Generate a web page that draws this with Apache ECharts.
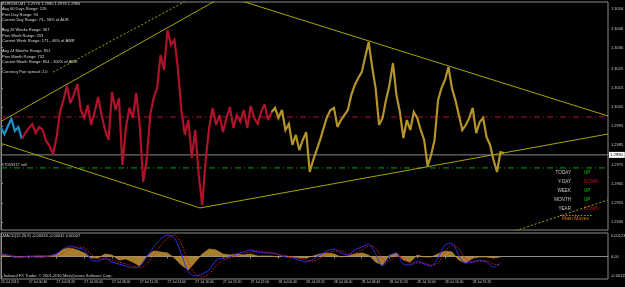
<!DOCTYPE html>
<html><head><meta charset="utf-8">
<script src="https://cdn.jsdelivr.net/npm/echarts@6/dist/echarts.min.js"></script>
<style>html,body{margin:0;padding:0;background:#000;}#c{width:625px;height:287px;}</style>
</head><body><div id="c"></div>
<script>
// ---- data ----
const timeLabels = ['26 Jul 2010','27 Jul 00:40','27 Jul 03:20','27 Jul 06:00','27 Jul 08:40','27 Jul 11:20','27 Jul 14:00','27 Jul 16:40','27 Jul 19:20','27 Jul 22:00','28 Jul 00:40','28 Jul 03:20','28 Jul 06:00','28 Jul 08:40','28 Jul 11:20','28 Jul 14:00','28 Jul 16:40','28 Jul 19:20'];
const timeTickMinutes = [0,160,320,480,640,800,960,1120,1280,1440,1600,1760,1920,2080,2240,2400,2560,2720];
const priceTickLabels = ['1.3056','1.3046','1.3036','1.3025','1.3015','1.3005','1.2995','1.2985','1.2975','1.2965','1.2955','1.2945'];
const macdTickLabels = ['0.00123','0.00','-0.00115'];
const macdTickValues = [0.00123, 0, -0.00115];

const PRICE_STEP = 20;   // minutes between price samples
const blueStart = 0, redStart = 6, goldStart = 78;
const bluePrice = [1.29940,1.29909,1.29951,1.29987,1.29925,1.29946,1.29883];
const redPrice = [1.29883,1.29914,1.29940,1.29961,1.29914,1.29946,1.29930,1.29873,1.29846,1.29805,
 1.29888,1.30024,1.30086,1.30160,1.30071,1.30113,1.30170,1.30034,1.29993,1.30060,
 1.29956,1.30024,1.30102,1.30008,1.29930,1.29878,1.30128,1.30034,1.30097,1.29747,
 1.29940,1.30045,1.29993,1.30123,1.29956,1.29659,1.29773,1.30008,1.30097,1.30149,
 1.30321,1.30243,1.30452,1.30373,1.30400,1.30253,1.30034,1.29904,1.29982,1.29784,
 1.29930,1.29695,1.29539,1.29773,1.29940,1.30045,1.29956,1.30008,1.29919,1.29993,
 1.30050,1.29940,1.30008,1.29972,1.30034,1.29940,1.30055,1.29993,1.29961,1.30024,
 1.30065,1.29982,1.30024];
const goldPrice = [1.30024,1.30045,1.29993,1.30034,1.29930,1.29961,1.29852,1.29904,1.29825,1.29878,
 1.29919,1.29711,1.29773,1.29825,1.29878,1.29940,1.29998,1.30034,1.30045,1.29946,
 1.29982,1.30008,1.30034,1.30113,1.30165,1.30201,1.30232,1.30311,1.30389,1.30259,
 1.30149,1.29956,1.29993,1.30086,1.30165,1.30279,1.30113,1.30024,1.29888,1.29982,
 1.29930,1.30024,1.29993,1.29930,1.29878,1.29742,1.29800,1.29878,1.30086,1.30149,
 1.30191,1.30259,1.30149,1.30086,1.30008,1.29930,1.29956,1.29993,1.30045,1.29914,
 1.29972,1.29993,1.29893,1.29852,1.29773,1.29711,1.29815,1.29810];

const MACD_STEP = 40;
const macdMain = [0.00021,0.00009,-0.00003,-0.00003,0.00003,-0.00003,-0.00003,0.00003,0.00015,0.00045,
 0.00063,0.00051,0.00039,-0.00021,-0.00027,-0.00009,-0.00033,-0.00045,-0.00057,-0.00068,
 -0.00057,-0.00003,0.00057,0.00104,0.00128,0.00110,0.00015,-0.00092,-0.00116,-0.00104,
 -0.00080,-0.00021,-0.00009,-0.00003,0.00015,0.00027,0.00039,0.00027,0.00021,0.00021,
 0.00009,-0.00003,-0.00009,-0.00021,-0.00033,-0.00015,0.00009,0.00033,0.00045,0.00021,
 0.00009,0.00039,0.00057,0.00074,0.00015,-0.00057,0.00003,0.00021,-0.00045,-0.00051,
 -0.00027,-0.00045,-0.00057,-0.00009,0.00068,0.00080,0.00003,-0.00039,-0.00033,-0.00021,
 -0.00033,-0.00063,-0.00039];
const macdSignal = [0.00009,0.00009,0.00003,-0.00003,-0.00003,-0.00003,-0.00003,0.00003,0.00003,0.00021,
 0.00045,0.00057,0.00051,0.00015,-0.00015,-0.00015,-0.00021,-0.00033,-0.00045,-0.00057,
 -0.00068,-0.00045,0.00009,0.00063,0.00110,0.00128,0.00074,-0.00033,-0.00104,-0.00122,
 -0.00104,-0.00057,-0.00021,-0.00009,0.00003,0.00015,0.00027,0.00033,0.00027,0.00021,
 0.00015,0.00003,-0.00003,-0.00009,-0.00021,-0.00027,-0.00009,0.00015,0.00033,0.00033,
 0.00015,0.00021,0.00039,0.00063,0.00051,-0.00015,-0.00027,0.00003,-0.00009,-0.00039,
 -0.00039,-0.00039,-0.00051,-0.00039,0.00027,0.00068,0.00045,-0.00015,-0.00033,-0.00027,
 -0.00027,-0.00045,-0.00051];
const macdHist = [0.00009,0.00003,-0.00003,-0.00003,0,0.00003,0.00003,0.00003,0.00015,0.00045,
 0.00051,0.00039,0.00021,-0.00009,-0.00009,0.00015,0.00009,-0.00021,-0.00015,-0.00033,
 -0.00057,0.00003,0.00033,0.00027,0.00021,-0.00009,-0.00051,-0.00080,-0.00033,0.00015,
 0.00045,0.00039,0.00015,0.00009,0.00015,0.00009,0.00015,0.00003,0.00003,0.00003,
 -0.00003,0.00003,-0.00003,-0.00009,-0.00009,0.00003,0.00015,0.00021,0.00015,-0.00003,
 0.00003,0.00015,0.00021,0.00009,-0.00033,-0.00051,0.00009,0.00021,-0.00021,-0.00033,
 0.00009,-0.00003,-0.00003,0.00015,0.00033,0.00027,-0.00021,-0.00039,-0.00009,-0.00003,
 -0.00003,-0.00009,-0.00003];

// trend lines: [[minute, price],[minute, price]]
const trendSolid = [
  [[0,1.29975],[1234,1.30603]],
  [[1395,1.30601],[3500,1.30003]],
  [[0,1.29860],[1147,1.29523]],
  [[1147,1.29523],[3500,1.29909]]
];
const trendDotted = [
  [[300,1.30232],[1067,1.30603]],
  [[2946,1.29398],[3500,1.29565]]
];
const levelRed = 1.29998, levelGreen = 1.29732, levelBid = 1.2980;
const bidLabel = '1.2980';
const chartEndMinute = 3500;

const infoLines = ['EURUSD,M1  1.2976 1.2980 1.2976 1.2980','Avg 60 Days Range: 126','Prev Day Range: 94','Current Day Range: 73 - 58% of ADR','',
 'Avg 26 Weeks Range: 367','Prev Week Range: 203','Current Week Range: 171 - 46% of AWR','',
 'Avg 24 Months Range: 851','Prev Month Range: 732','Current Month Range: 854 - 100% of AMR','','Currency Pair spread: 2.0'];
const trendNames = ['TODAY','Y-DAY','WEEK','MONTH','YEAR'];
const trendStates = ['UP','DOWN','UP','UP','DOWN'];

// ---- build ----
const toPts = (arr, start, step) => arr.map((v, i) => [(start + i) * step, v]);
const FONT = '"Liberation Sans", Arial, sans-serif';
const axisGray = '#8c8c8c';
const series = [];
function priceLine(arr, start, color) {
  series.push({type:'line', xAxisIndex:0, yAxisIndex:0, data: toPts(arr, start, PRICE_STEP), showSymbol:false,
    lineStyle:{color, width:2.2, join:'miter', miterLimit:3}, itemStyle:{color}, z:3, silent:true, animation:false});
}
function level(p, color, type, label) {
  const s = {type:'line', xAxisIndex:0, yAxisIndex:0, data:[[0,p],[chartEndMinute,p]], showSymbol:false,
    lineStyle:{color, width:1, type}, z:2, silent:true, animation:false};
  if (label) s.endLabel = {show:true, formatter:label, backgroundColor:'#ffffff', color:'#000', fontSize:4.2, fontFamily:FONT, padding:[1,2,1,1], distance:1};
  series.push(s);
}
level(levelRed, '#b01030', [6,3,1,3]);
level(levelGreen, '#00a000', [6,3,1,3]);
level(levelBid, '#8a8a8a', 'solid', bidLabel);
priceLine(bluePrice, blueStart, '#1e8ec6');
priceLine(redPrice, redStart, '#b0122c');
priceLine(goldPrice, goldStart, '#b4942a');
trendSolid.forEach(d => series.push({type:'line', xAxisIndex:0, yAxisIndex:0, data:d, showSymbol:false, clip:true,
  lineStyle:{color:'#a6a600', width:1}, z:4, silent:true, animation:false}));
trendDotted.forEach(d => series.push({type:'line', xAxisIndex:0, yAxisIndex:0, data:d, showSymbol:false, clip:true,
  lineStyle:{color:'#a6a600', width:1, type:[2,2]}, z:4, silent:true, animation:false}));
// MACD
series.push({type:'line', xAxisIndex:1, yAxisIndex:1, data:toPts(macdHist,0,MACD_STEP), showSymbol:false,
  lineStyle:{color:'#c49433', width:0.6}, areaStyle:{color:'#c49433', opacity:0.85, origin:0}, z:2, silent:true, animation:false});
series.push({type:'line', xAxisIndex:1, yAxisIndex:1, data:toPts(macdMain,0,MACD_STEP), showSymbol:false, smooth:0.3,
  lineStyle:{color:'#2c2cf0', width:1}, z:4, silent:true, animation:false});
series.push({type:'line', xAxisIndex:1, yAxisIndex:1, data:toPts(macdSignal,0,MACD_STEP), showSymbol:false, smooth:0.3,
  lineStyle:{color:'#e01818', width:1, type:[1.5,1.5]}, z:5, silent:true, animation:false});

const graphic = [
  {type:'text', left:2, top:1.5, silent:true, style:{text:infoLines.join('\n'), fill:'#d8d8d8', font:'4px '+FONT, lineHeight:5.25}},
  {type:'text', left:2, top:163, silent:true, style:{text:'#7059317 sell', fill:'#d0d0d0', font:'4px '+FONT}},
  {type:'text', left:3, top:234, silent:true, style:{text:'MACD(12,26,9) -0.00034 -0.00042 0.00007', fill:'#d0d0d0', font:'4px '+FONT}},
  {type:'text', left:3, top:274, silent:true, style:{text:'Tadawul FX Trader, \u00a9 2001-2010 MetaQuotes Software Corp.', fill:'#d0d0d0', font:'4px '+FONT}},
  {type:'text', left:562, top:216.5, silent:true, style:{text:'Main Moves', fill:'#d07c10', font:'5px '+FONT}},
  {type:'line', silent:true, shape:{x1:560, y1:215.5, x2:593, y2:215.5}, style:{stroke:'#d07c10', lineWidth:1, lineDash:[1.5,1.5]}}
];
trendNames.forEach((n, i) => {
  const y = 170.5 + i * 8.9;
  graphic.push({type:'text', right:625-571, top:y, silent:true, style:{text:n, fill:'#c8c8c8', font:'4.6px '+FONT, align:'right'}});
  graphic.push({type:'text', left:584, top:y, silent:true, style:{text:trendStates[i], fill: trendStates[i]==='UP' ? '#14c814' : '#c8102a', font:'4.6px '+FONT, align:'center'}});
});

const chart = echarts.init(document.getElementById('c'), null, {renderer:'canvas'});
chart.setOption({
  backgroundColor:'#000000',
  animation:false,
  graphic,
  grid:[
    {left:1, top:2, width:607, height:228, show:true, borderColor:axisGray, borderWidth:1, outerBoundsMode:'none', containLabel:false},
    {left:1, top:233, width:607, height:46, show:true, borderColor:axisGray, borderWidth:1, outerBoundsMode:'none', containLabel:false}
  ],
  xAxis:[
    {type:'value', gridIndex:0, min:0, max:chartEndMinute, axisLine:{show:false}, axisTick:{show:false}, axisLabel:{show:false}, splitLine:{show:false}},
    {type:'value', gridIndex:1, min:0, max:chartEndMinute, axisLine:{show:true, lineStyle:{color:axisGray}}, splitLine:{show:false},
     axisTick:{show:true, customValues:timeTickMinutes, length:2, lineStyle:{color:axisGray}},
     axisLabel:{show:true, customValues:timeTickMinutes, align:'left', margin:2, color:'#c8c8c8', fontSize:3.4, fontFamily:FONT,
       formatter:(v)=>timeLabels[timeTickMinutes.indexOf(v)] || ''}}
  ],
  yAxis:[
    {type:'value', gridIndex:0, position:'right', min:1.29408, max:1.30598, splitLine:{show:false},
     axisLine:{show:true, lineStyle:{color:axisGray}},
     axisTick:{show:true, customValues:priceTickLabels.map(Number), length:2, lineStyle:{color:axisGray}},
     axisLabel:{show:true, customValues:priceTickLabels.map(Number), margin:3, color:'#c8c8c8', fontSize:4, fontFamily:FONT,
       formatter:(v)=>priceTickLabels[priceTickLabels.map(Number).indexOf(v)] || ''}},
    {type:'value', gridIndex:1, position:'right', min:-0.00134, max:0.0014, splitLine:{show:false},
     axisLine:{show:true, lineStyle:{color:axisGray}},
     axisTick:{show:true, customValues:macdTickValues, length:2, lineStyle:{color:axisGray}},
     axisLabel:{show:true, customValues:macdTickValues, margin:3, color:'#c8c8c8', fontSize:4, fontFamily:FONT,
       formatter:(v)=>macdTickLabels[macdTickValues.indexOf(v)] || ''}}
  ],
  series
});
</script></body></html>
